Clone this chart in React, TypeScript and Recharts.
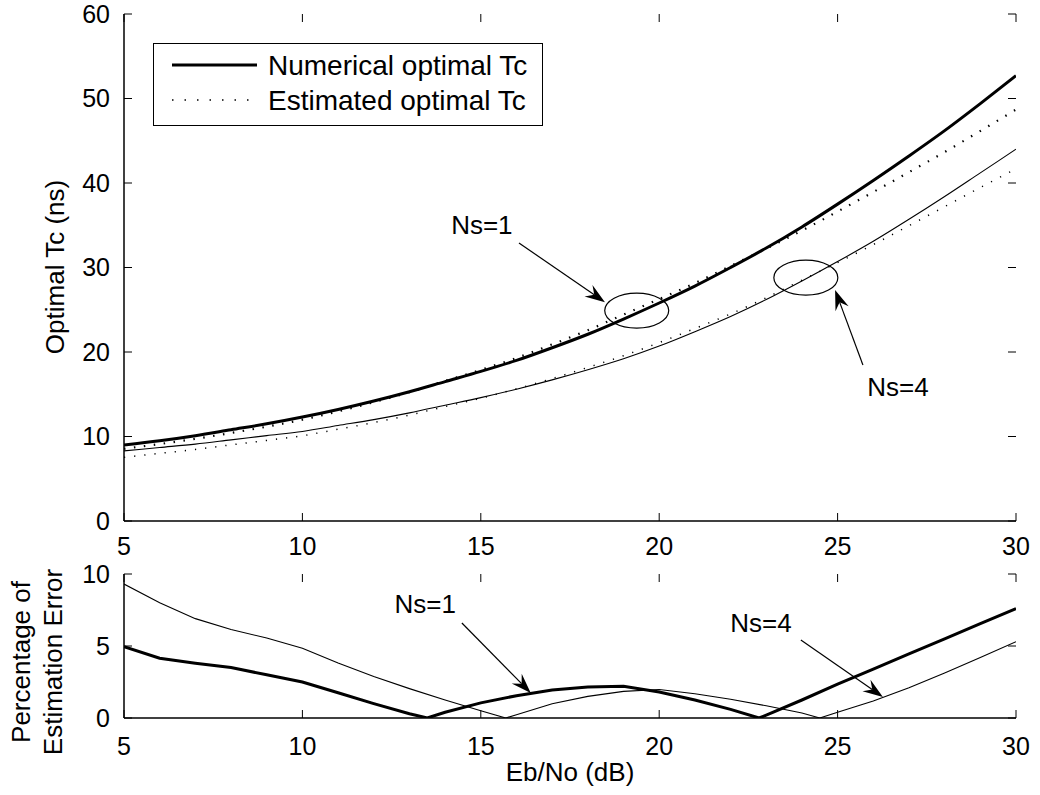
import { LineChart, Line, XAxis, YAxis, ReferenceDot, ReferenceLine, Legend } from "recharts";

const FONT = '"Liberation Sans", Arial, Helvetica, sans-serif';

// Eb/No grid of the upper plot (dB)
const ebno = [5, 6, 7, 8, 9, 10, 11, 12, 13, 14, 15, 16, 17, 18, 19, 20, 21, 22, 23, 24, 25, 26, 27, 28, 29, 30];
const numericalNs1 = [9.0, 9.5, 10.1, 10.8, 11.5, 12.3, 13.2, 14.2, 15.3, 16.5, 17.7, 19.0, 20.5, 22.1, 23.9, 25.8, 27.8, 30.0, 32.3, 34.8, 37.5, 40.3, 43.2, 46.2, 49.4, 52.7];
const estimatedNs1 = [8.55, 9.11, 9.72, 10.42, 11.16, 11.99, 12.97, 14.06, 15.25, 16.57, 17.89, 19.29, 20.9, 22.58, 24.43, 26.26, 28.15, 30.18, 32.24, 34.37, 36.62, 38.93, 41.28, 43.66, 46.16, 48.69];
const numericalNs4 = [8.3, 8.7, 9.1, 9.6, 10.1, 10.6, 11.3, 12.0, 12.8, 13.7, 14.6, 15.6, 16.7, 17.9, 19.2, 20.7, 22.4, 24.2, 26.2, 28.4, 30.7, 33.1, 35.7, 38.4, 41.2, 44.0];
const estimatedNs4 = [7.53, 8.0, 8.47, 9.01, 9.54, 10.09, 10.86, 11.65, 12.54, 13.54, 14.53, 15.64, 16.85, 18.17, 19.56, 21.11, 22.78, 24.51, 26.42, 28.5, 30.58, 32.71, 34.95, 37.2, 39.47, 41.67];

// lower plot: percentage of estimation error
const errorEbnoNs1 = [5, 6, 7, 8, 9, 10, 11, 12, 13, 13.5, 14, 15, 16, 17, 18, 19, 20, 21, 22, 22.8, 23, 24, 25, 26, 27, 28, 29, 30];
const errorNs1 = [4.95, 4.15, 3.8, 3.5, 3.0, 2.5, 1.75, 1.0, 0.3, 0, 0.4, 1.05, 1.55, 1.95, 2.15, 2.2, 1.8, 1.25, 0.6, 0, 0.2, 1.25, 2.35, 3.4, 4.45, 5.5, 6.55, 7.6];
const errorEbnoNs4 = [5, 6, 7, 8, 9, 10, 11, 12, 13, 14, 15, 15.7, 16, 17, 18, 19, 20, 21, 22, 23, 24, 24.5, 25, 26, 27, 28, 29, 30];
const errorNs4 = [9.3, 8.0, 6.9, 6.15, 5.55, 4.85, 3.82, 2.88, 2.04, 1.25, 0.5, 0, 0.23, 0.99, 1.5, 1.85, 1.98, 1.68, 1.3, 0.85, 0.35, 0, 0.4, 1.18, 2.1, 3.12, 4.2, 5.3];

const xTicks = [5, 10, 15, 20, 25, 30];
const topYTicks = [0, 10, 20, 30, 40, 50, 60];
const bottomYTicks = [0, 5, 10];

const toPoints = (xs: number[], ys: number[]) => xs.map((x, i) => ({ x, y: ys[i] }));

const axisLine = { stroke: "#000", strokeWidth: 1.5 };
const tickStyle = { fill: "#000", fontSize: 25, fontFamily: FONT };
const noTick = () => <g />;
const TICK = 8;

// matlab-style ticks pointing into the box, on both opposite sides
const xTickMark = (p: any) => {
  const { x1, y1, y2 } = p;
  const d = y2 > y1 ? TICK : -TICK;
  return (
    <g stroke="#000" strokeWidth={1}>
      <line x1={x1} x2={x1} y1={y1} y2={y1 + d} />
      <line x1={x1} x2={x1} y1={y2} y2={y2 - d} />
    </g>
  );
};
const yTickMark = (p: any) => {
  const { x1, x2, y1 } = p;
  const d = x2 > x1 ? TICK : -TICK;
  return (
    <g stroke="#000" strokeWidth={1}>
      <line x1={x1} x2={x1 + d} y1={y1} y2={y1} />
      <line x1={x2} x2={x2 - d} y1={y1} y2={y1} />
    </g>
  );
};

const Arrow = (props: any) => {
  const { x1, y1, x2, y2 } = props;
  const dx = x2 - x1;
  const dy = y2 - y1;
  const len = Math.hypot(dx, dy) || 1;
  const ux = dx / len;
  const uy = dy / len;
  const L = 20;
  const W = 7;
  const N = 13;
  const bx = x2 - ux * L;
  const by = y2 - uy * L;
  const nx = x2 - ux * N;
  const ny = y2 - uy * N;
  const pts = `${x2},${y2} ${bx - uy * W},${by + ux * W} ${nx},${ny} ${bx + uy * W},${by - ux * W}`;
  return (
    <g>
      <line x1={x1} y1={y1} x2={nx} y2={ny} stroke="#000" strokeWidth={1.2} />
      <polygon points={pts} fill="#000" />
    </g>
  );
};

const ellipse = (p: any) => (
  <ellipse cx={p.cx} cy={p.cy} rx={32} ry={17.5} fill="none" stroke="#000" strokeWidth={1.2} />
);

const note = (text: string) => (p: any) => (
  <text x={p.cx} y={p.cy} textAnchor="middle" dominantBaseline="central" fontSize={26} fontFamily={FONT} fill="#000">
    {text}
  </text>
);

const LegendBox = () => (
  <svg width={390} height={83} style={{ display: "block" }}>
    <rect x={0.5} y={0.5} width={389} height={82} fill="#fff" stroke="#000" strokeWidth={1} />
    <line x1={19} y1={22} x2={104} y2={22} stroke="#000" strokeWidth={3} />
    <line x1={19} y1={57} x2={104} y2={57} stroke="#000" strokeWidth={1.3} strokeDasharray="1.5 11" />
    <text x={115} y={32} fontSize={28} fontFamily={FONT} fill="#000">Numerical optimal Tc</text>
    <text x={115} y={67} fontSize={28} fontFamily={FONT} fill="#000">Estimated optimal Tc</text>
  </svg>
);

export default function App() {
  return (
    <div style={{ position: "fixed", left: 0, top: 0, width: 1040, height: 795, background: "#fff", fontFamily: FONT }}>
      <div style={{ position: "absolute", left: 0, top: 0 }}>
        <LineChart width={1040} height={560} margin={{ top: 14, right: 24, left: 64, bottom: 0 }}>
          <XAxis
            type="number"
            dataKey="x"
            domain={[5, 30]}
            ticks={xTicks}
            allowDataOverflow
            height={39}
            axisLine={axisLine}
            tickLine={false}
            tickSize={0}
            tickMargin={16}
            tick={tickStyle}
          />
          <XAxis xAxisId="top" orientation="top" type="number" domain={[5, 30]} ticks={xTicks} allowDataOverflow height={0} axisLine={axisLine} tickLine={false} tick={noTick} />
          <YAxis
            type="number"
            domain={[0, 60]}
            ticks={topYTicks}
            allowDataOverflow
            width={60}
            axisLine={axisLine}
            tickLine={false}
            tickSize={0}
            tickMargin={14}
            tick={tickStyle}
            label={() => (
              <text transform="rotate(-90 64 267)" x={64} y={267} textAnchor="middle" fontSize={26} fontFamily={FONT} fill="#000">
                Optimal Tc (ns)
              </text>
            )}
          />
          <YAxis yAxisId="right" orientation="right" type="number" domain={[0, 60]} ticks={topYTicks} allowDataOverflow width={0} axisLine={axisLine} tickLine={false} tick={noTick} />
          {xTicks.map((t) => (
            <ReferenceLine key={`xt${t}`} x={t} shape={xTickMark} />
          ))}
          {topYTicks.map((t) => (
            <ReferenceLine key={`yt${t}`} y={t} shape={yTickMark} />
          ))}
          <Legend layout="horizontal" verticalAlign="middle" align="center" content={() => <LegendBox />} wrapperStyle={{ left: 153, top: 43, width: 390, height: 83 }} />
          <Line data={toPoints(ebno, estimatedNs4)} dataKey="y" type="monotone" stroke="#000" strokeWidth={1.5} strokeDasharray="1.2 9" dot={false} activeDot={false} isAnimationActive={false} />
          <Line data={toPoints(ebno, numericalNs4)} dataKey="y" type="monotone" stroke="#000" strokeWidth={1.1} dot={false} activeDot={false} isAnimationActive={false} />
          <Line data={toPoints(ebno, estimatedNs1)} dataKey="y" type="monotone" stroke="#000" strokeWidth={2.2} strokeDasharray="1.5 8.5" dot={false} activeDot={false} isAnimationActive={false} />
          <Line data={toPoints(ebno, numericalNs1)} dataKey="y" type="monotone" stroke="#000" strokeWidth={3} dot={false} activeDot={false} isAnimationActive={false} />
          <ReferenceDot x={19.37} y={24.9} shape={ellipse} />
          <ReferenceDot x={24.11} y={28.8} shape={ellipse} />
          <ReferenceLine segment={[{ x: 16.07, y: 32.9 }, { x: 18.48, y: 25.9 }]} shape={Arrow} />
          <ReferenceLine segment={[{ x: 25.71, y: 18.46 }, { x: 24.93, y: 27.34 }]} shape={Arrow} />
          <ReferenceDot x={15.03} y={35.0} shape={note("Ns=1")} />
          <ReferenceDot x={26.69} y={15.86} shape={note("Ns=4")} />
        </LineChart>
      </div>
      <div style={{ position: "absolute", left: 0, top: 560 }}>
        <LineChart width={1040} height={235} margin={{ top: 14, right: 24, left: 64, bottom: 0 }}>
          <XAxis
            type="number"
            dataKey="x"
            domain={[5, 30]}
            ticks={xTicks}
            allowDataOverflow
            height={77}
            axisLine={axisLine}
            tickLine={false}
            tickSize={0}
            tickMargin={19}
            tick={tickStyle}
            label={() => (
              <text x={570} y={221} textAnchor="middle" fontSize={26} fontFamily={FONT} fill="#000">
                Eb/No (dB)
              </text>
            )}
          />
          <XAxis xAxisId="top" orientation="top" type="number" domain={[5, 30]} ticks={xTicks} allowDataOverflow height={0} axisLine={axisLine} tickLine={false} tick={noTick} />
          <YAxis
            type="number"
            domain={[0, 10]}
            ticks={bottomYTicks}
            allowDataOverflow
            width={60}
            axisLine={axisLine}
            tickLine={false}
            tickSize={0}
            tickMargin={14}
            tick={tickStyle}
            label={() => (
              <g fontSize={26} fontFamily={FONT} fill="#000">
                <text transform="rotate(-90 30 102)" x={30} y={102} textAnchor="middle">Percentage of</text>
                <text transform="rotate(-90 61.5 102)" x={61.5} y={102} textAnchor="middle">Estimation Error</text>
              </g>
            )}
          />
          <YAxis yAxisId="right" orientation="right" type="number" domain={[0, 10]} ticks={bottomYTicks} allowDataOverflow width={0} axisLine={axisLine} tickLine={false} tick={noTick} />
          {xTicks.map((t) => (
            <ReferenceLine key={`bxt${t}`} x={t} shape={xTickMark} />
          ))}
          {bottomYTicks.map((t) => (
            <ReferenceLine key={`byt${t}`} y={t} shape={yTickMark} />
          ))}
          <Line data={toPoints(errorEbnoNs4, errorNs4)} dataKey="y" type="linear" stroke="#000" strokeWidth={1.1} dot={false} activeDot={false} isAnimationActive={false} />
          <Line data={toPoints(errorEbnoNs1, errorNs1)} dataKey="y" type="linear" stroke="#000" strokeWidth={3} dot={false} activeDot={false} isAnimationActive={false} />
          <ReferenceLine segment={[{ x: 14.47, y: 6.6 }, { x: 16.4, y: 1.74 }]} shape={Arrow} />
          <ReferenceLine segment={[{ x: 23.97, y: 5.42 }, { x: 26.27, y: 1.46 }]} shape={Arrow} />
          <ReferenceDot x={13.44} y={7.92} shape={note("Ns=1")} />
          <ReferenceDot x={22.85} y={6.6} shape={note("Ns=4")} />
        </LineChart>
      </div>
    </div>
  );
}
